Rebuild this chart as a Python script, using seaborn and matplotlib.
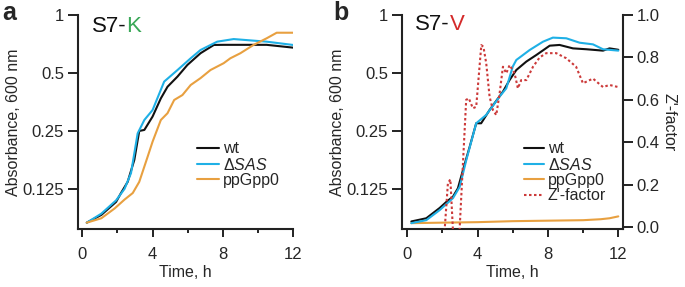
import matplotlib
matplotlib.use("Agg")
import matplotlib.pyplot as plt
import seaborn as sns
import numpy as np
import pandas as pd
from matplotlib.ticker import FixedLocator, NullLocator, FixedFormatter

# ---------------- data ----------------
# Panel a (S7-K)
a_wt_t = [0.25, 1.08, 1.92, 2.2, 2.58, 2.96, 3.24, 3.53, 4.0, 4.47, 4.85, 5.42, 5.98, 6.73, 7.49, 8.05, 9.4, 10.5, 12]
a_wt_v = [0.0835, 0.0916, 0.107, 0.119, 0.136, 0.177, 0.25, 0.253, 0.297, 0.369, 0.424, 0.479, 0.55, 0.633, 0.699, 0.70, 0.70, 0.70, 0.677]
a_sas_t = [0.25, 1.08, 1.92, 2.4, 2.77, 3.15, 3.53, 4.0, 4.66, 5.42, 6.17, 6.73, 7.68, 8.62, 9.75, 10.5, 12]
a_sas_v = [0.0835, 0.093, 0.109, 0.125, 0.151, 0.243, 0.285, 0.321, 0.451, 0.518, 0.596, 0.658, 0.727, 0.75, 0.736, 0.727, 0.699]
a_pp_t = [0.25, 1.08, 1.84, 2.4, 2.87, 3.24, 3.72, 4.0, 4.47, 4.85, 5.23, 5.7, 6.17, 6.73, 7.3, 8.05, 8.43, 9.0, 9.75, 10.5, 11.07, 12]
a_pp_v = [0.0835, 0.088, 0.099, 0.11, 0.119, 0.136, 0.184, 0.22, 0.285, 0.309, 0.362, 0.384, 0.433, 0.47, 0.518, 0.562, 0.596, 0.633, 0.699, 0.757, 0.809, 0.809]

# Panel b (S7-V)
b_wt_t = [0.23, 1.08, 1.84, 2.22, 2.6, 2.88, 3.17, 3.55, 3.92, 4.2, 4.68, 5.44, 5.82, 6.2, 6.77, 7.34, 8.1, 8.66, 9.42, 10.18, 11.13, 11.5, 12]
b_wt_v = [0.0847, 0.088, 0.0995, 0.107, 0.114, 0.126, 0.157, 0.207, 0.274, 0.274, 0.321, 0.40, 0.46, 0.518, 0.573, 0.62, 0.693, 0.699, 0.671, 0.664, 0.653, 0.671, 0.66]
b_sas_t = [0.23, 1.08, 1.84, 2.6, 2.98, 3.36, 3.92, 4.49, 5.25, 5.63, 6.0, 6.2, 6.96, 7.72, 8.28, 9.04, 9.8, 10.56, 11.13, 12]
b_sas_v = [0.083, 0.086, 0.097, 0.112, 0.128, 0.177, 0.274, 0.303, 0.377, 0.416, 0.54, 0.584, 0.658, 0.727, 0.763, 0.757, 0.718, 0.704, 0.664, 0.653]
b_pp_t = [0.23, 2, 4, 6, 8, 10, 11, 11.5, 12]
b_pp_v = [0.083, 0.0835, 0.084, 0.085, 0.0855, 0.086, 0.087, 0.088, 0.09]
b_z_t = [2.12, 2.31, 2.45, 2.6, 2.75, 2.97, 3.35, 3.5, 3.73, 3.92, 4.21, 4.33, 4.49, 4.68, 4.87, 5.06, 5.25, 5.44,
         5.63, 5.82, 6.1, 6.29, 6.48, 6.77, 7.15, 7.53, 7.9, 8.47, 9.04, 9.6, 9.99, 10.56, 11.13, 11.5, 12]
b_z_v = [-0.02, 0.206, 0.225, -0.02, -0.05, -0.02, 0.6, 0.607, 0.56, 0.567, 0.858, 0.85, 0.772, 0.615, 0.552, 0.528, 0.63, 0.756,
         0.725, 0.764, 0.725, 0.654, 0.693, 0.693, 0.756, 0.80, 0.82, 0.82, 0.796, 0.756, 0.678, 0.70, 0.66, 0.67, 0.66]

y_ticks = [0.125, 0.25, 0.5, 1]
y_ticklabels = ["0.125", "0.25", "0.5", "1"]
x_major = [0, 4, 8, 12]
x_minor = [2, 6, 10]
z_ticks = [0.0, 0.2, 0.4, 0.6, 0.8, 1.0]
z_ticklabels = ["0.0", "0.2", "0.4", "0.6", "0.8", "1.0"]

C_WT = "#111111"
C_SAS = "#1fb0e6"
C_PP = "#e8a040"
C_Z = "#cc3a3a"
C_K = "#3aa858"
C_V = "#d42a2a"
C_AX = "#222222"

sns.set_theme(style="ticks")
plt.rcParams["font.family"] = ["Liberation Sans", "DejaVu Sans"]
plt.rcParams["mathtext.fontset"] = "custom"
plt.rcParams["mathtext.it"] = "Liberation Sans:italic"
plt.rcParams["mathtext.rm"] = "Liberation Sans"

FS_TICK = 12
FS_LAB = 11.5
FS_LEG = 11.5
fig = plt.figure(figsize=(6.85, 2.87), dpi=100)
axA = fig.add_axes([78 / 685, 1 - 229 / 287, (293 - 78) / 685, (229 - 15) / 287])
axB = fig.add_axes([402 / 685, 1 - 229 / 287, (622.7 - 402) / 685, (229 - 15) / 287])

LW = 1.5
sns.lineplot(x=a_wt_t, y=a_wt_v, ax=axA, color=C_WT, lw=LW, label="wt")
sns.lineplot(x=a_sas_t, y=a_sas_v, ax=axA, color=C_SAS, lw=LW, label=r"$\Delta\mathit{SAS}$")
sns.lineplot(x=a_pp_t, y=a_pp_v, ax=axA, color=C_PP, lw=LW, label="ppGpp0")

sns.lineplot(x=b_pp_t, y=b_pp_v, ax=axB, color=C_PP, lw=LW, label="ppGpp0")
sns.lineplot(x=b_wt_t, y=b_wt_v, ax=axB, color=C_WT, lw=LW, label="wt")
sns.lineplot(x=b_sas_t, y=b_sas_v, ax=axB, color=C_SAS, lw=LW, label=r"$\Delta\mathit{SAS}$")
axZ = axB.twinx()
sns.lineplot(x=b_z_t, y=b_z_v, ax=axZ, color=C_Z, lw=1.5, linestyle=(0, (1.2, 1.2)), label="Z'-factor")

for ax in (axA, axB):
    ax.set_yscale("log")
    ax.set_ylim(0.0774, 1.0)
    ax.set_xlim(-0.25 if ax is axA else -0.3, 12.0 if ax is axA else 12.25)
    ax.yaxis.set_major_locator(FixedLocator(y_ticks))
    ax.yaxis.set_major_formatter(FixedFormatter(y_ticklabels))
    ax.yaxis.set_minor_locator(NullLocator())
    ax.xaxis.set_major_locator(FixedLocator(x_major))
    ax.xaxis.set_minor_locator(FixedLocator(x_minor))
    ax.tick_params(axis="y", which="major", direction="out", length=7, width=1.4,
                   labelsize=FS_TICK, color=C_AX, pad=3)
    ax.tick_params(axis="x", which="major", direction="out", length=5.8, width=1.4,
                   labelsize=FS_TICK, color=C_AX, pad=7)
    ax.tick_params(axis="x", which="minor", direction="out", length=3, width=1.4, color=C_AX)
    ax.set_xlabel("Time, h", fontsize=FS_LAB, labelpad=2)
    ax.set_ylabel("Absorbance, 600 nm", fontsize=FS_LAB, labelpad=1)
    for s in ("left", "bottom"):
        ax.spines[s].set_linewidth(1.5)
        ax.spines[s].set_color(C_AX)
    ax.spines["top"].set_visible(False)
    ax.spines["right"].set_visible(False)

axZ.set_ylim(-0.0094, 1.0)
axZ.yaxis.set_major_locator(FixedLocator(z_ticks))
axZ.yaxis.set_major_formatter(FixedFormatter(z_ticklabels))
axZ.tick_params(axis="y", direction="out", length=7, width=1.4, labelsize=FS_TICK, color=C_AX, pad=3)
axZ.spines["right"].set_linewidth(1.5)
axZ.spines["right"].set_color(C_AX)
for s in ("top", "left", "bottom"):
    axZ.spines[s].set_visible(False)
axZ.set_ylabel("Z'-factor", fontsize=FS_LAB, rotation=270, labelpad=12)

# legends
legA = axA.legend(loc="upper left", bbox_to_anchor=(0.555, 0.41), frameon=False, fontsize=FS_LEG,
                  handlelength=1.35, handletextpad=0.25, labelspacing=0.02, borderpad=0, borderaxespad=0)
hB, lB = axB.get_legend_handles_labels()
hZ, lZ = axZ.get_legend_handles_labels()
order = [1, 2, 0]
if axB.get_legend():
    axB.get_legend().remove()
if axZ.get_legend():
    axZ.get_legend().remove()
legB = axZ.legend([hB[i] for i in order] + hZ, [lB[i] for i in order] + lZ, loc="upper left",
                  bbox_to_anchor=(0.555, 0.41), frameon=False, fontsize=FS_LEG,
                  handlelength=1.2, handletextpad=0.25, labelspacing=0.02, borderpad=0, borderaxespad=0)

# titles with colored last letter
fig.canvas.draw()
rend = fig.canvas.get_renderer()
for letter, col, xpx, ypx in (("K", C_K, 92, 26.5), ("V", C_V, 415, 24)):
    t1 = fig.text(xpx / 685, 1 - ypx / 287, "S7-", fontsize=16, ha="left", va="center", color="#111111")
    bb = t1.get_window_extent(renderer=rend)
    fig.text(bb.x1 / 685, 1 - ypx / 287, letter, fontsize=16, ha="left", va="center", color=col)

fig.text(2 / 685, 1 - 13 / 287, "a", fontsize=18, fontweight="bold", ha="left", va="center")
fig.text(333 / 685, 1 - 13 / 287, "b", fontsize=18, fontweight="bold", ha="left", va="center")

fig.savefig("out.png", dpi=100)
